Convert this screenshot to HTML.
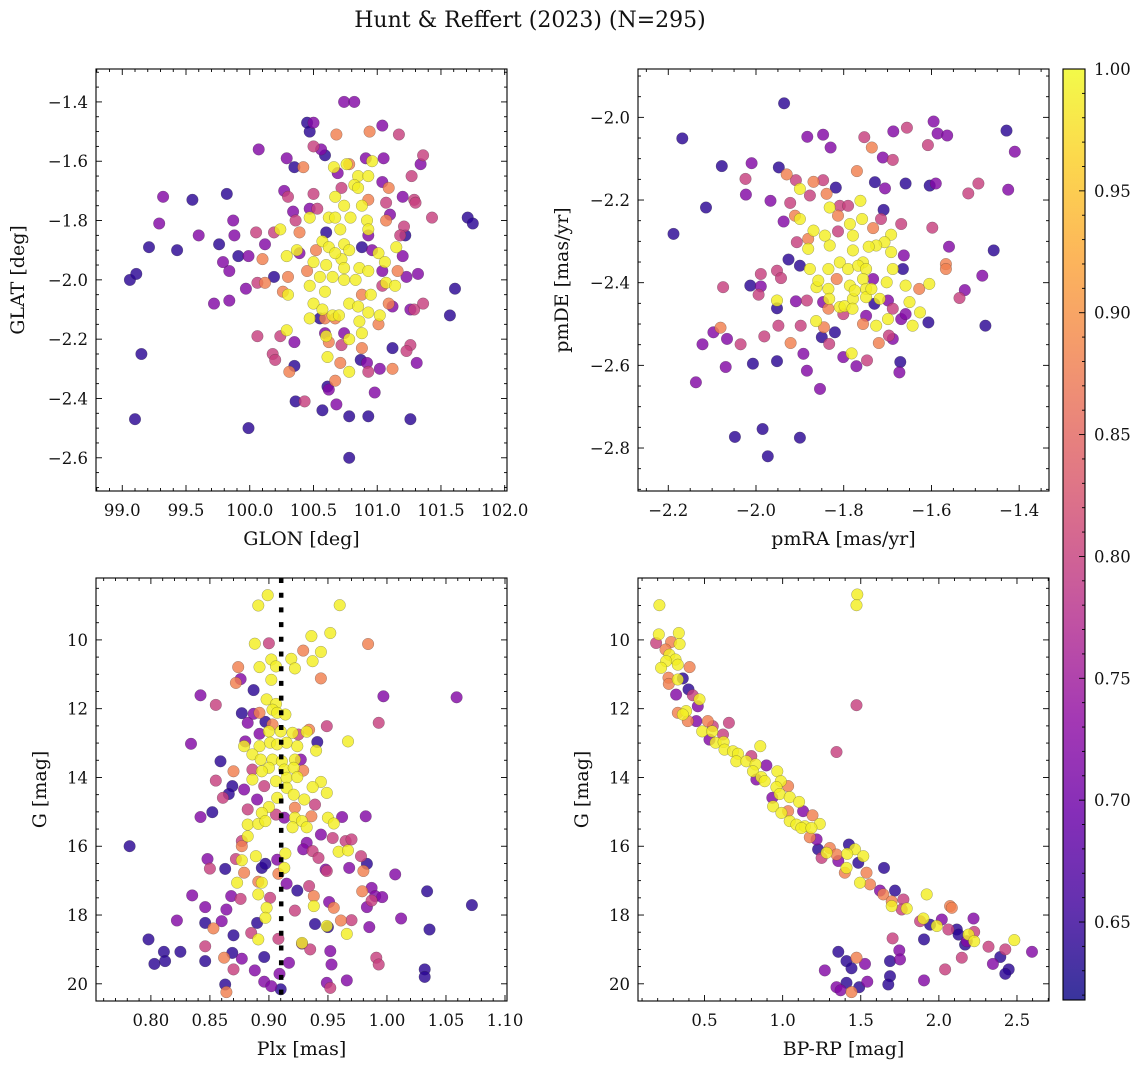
<!DOCTYPE html>
<html><head><meta charset="utf-8"><title>Hunt & Reffert (2023)</title>
<style>
html,body{margin:0;padding:0;background:#fff;}
svg{display:block;font-family:"DejaVu Serif","Liberation Serif",serif;}
</style></head>
<body>
<svg id="fig" width="1148" height="1068" viewBox="0 0 1148 1068" xmlns="http://www.w3.org/2000/svg">
<defs>
<linearGradient id="cbgrad" x1="0" y1="1" x2="0" y2="0"></linearGradient>
</defs>
<text x="530" y="27" font-size="22" text-anchor="middle" fill="#111">Hunt &amp; Reffert (2023) (N=295)</text>
</svg>
<script>
// ---------- data (prob: 0.64 dark, 0.72 purple, 0.80 magenta, 0.88 orange, 0.99 yellow) ----------
const glonGlatPoints = [
[100.74,-1.40,.72],[100.82,-1.40,.72],[100.45,-1.47,.64],[100.50,-1.47,.72],[100.47,-1.50,.64],[100.68,-1.51,.88],[100.94,-1.50,.88],[101.04,-1.48,.72],[101.17,-1.51,.80],[100.07,-1.56,.72],[100.29,-1.59,.72],[100.50,-1.55,.80],[100.56,-1.56,.72],[100.59,-1.58,.64],[100.35,-1.62,.64],[100.42,-1.62,.88],[100.66,-1.62,.99],[100.76,-1.61,.99],[100.78,-1.61,.88],[100.96,-1.60,.99],[100.91,-1.59,.72],[101.05,-1.59,.72],[101.36,-1.58,.80],[101.34,-1.61,.72],[101.27,-1.65,.80],[100.69,-1.64,.72],[100.85,-1.65,.99],[100.93,-1.65,.99],[100.82,-1.68,.99],[100.85,-1.69,.99],[101.04,-1.67,.72],[101.09,-1.69,.88],[100.27,-1.70,.72],[100.30,-1.72,.80],[100.50,-1.71,.80],[100.72,-1.69,.80],[100.67,-1.72,.99],[100.93,-1.73,.88],[99.32,-1.72,.72],[99.55,-1.73,.64],[99.82,-1.71,.64],[99.29,-1.81,.72],[99.87,-1.80,.72],[99.60,-1.85,.72],[99.88,-1.85,.72],[99.76,-1.88,.64],[99.21,-1.89,.64],[99.43,-1.90,.64],[100.05,-1.84,.80],[100.19,-1.84,.80],[100.24,-1.83,.99],[100.12,-1.88,.72],[100.34,-1.77,.72],[100.36,-1.80,.80],[100.39,-1.84,.88],[100.47,-1.79,.99],[100.47,-1.76,.72],[100.53,-1.76,.80],[100.62,-1.79,.99],[100.67,-1.79,.99],[100.74,-1.75,.99],[100.79,-1.79,.99],[100.88,-1.75,.99],[101.07,-1.74,.80],[101.20,-1.72,.72],[101.29,-1.73,.80],[101.30,-1.74,.80],[101.43,-1.79,.80],[101.71,-1.79,.64],[101.75,-1.81,.64],[101.10,-1.78,.72],[101.07,-1.80,.88],[101.21,-1.82,.80],[101.18,-1.85,.80],[101.22,-1.85,.64],[101.20,-1.92,.72],[100.92,-1.80,.99],[100.93,-1.83,.99],[100.71,-1.83,.99],[100.60,-1.84,.64],[100.57,-1.87,.99],[100.62,-1.89,.99],[100.74,-1.88,.99],[100.78,-1.90,.99],[100.72,-1.93,.99],[100.93,-1.85,.72],[100.88,-1.89,.64],[100.96,-1.90,.72],[101.01,-1.91,.99],[101.06,-1.94,.99],[101.15,-1.89,.99],[100.29,-1.92,.99],[100.37,-1.90,.99],[100.39,-1.91,.72],[100.52,-1.90,.88],[100.50,-1.94,.99],[100.60,-1.95,.99],[100.67,-1.91,.99],[100.74,-1.96,.99],[100.86,-1.96,.99],[100.93,-1.97,.99],[101.04,-1.97,.72],[101.07,-2.01,.99],[101.16,-1.97,.88],[101.23,-1.99,.72],[101.32,-1.98,.72],[99.91,-1.92,.64],[99.99,-1.92,.72],[100.10,-1.93,.88],[99.79,-1.94,.72],[99.84,-1.97,.72],[100.19,-1.99,.64],[100.30,-1.99,.88],[100.30,-2.05,.99],[100.26,-2.04,.88],[100.45,-1.97,.88],[100.47,-2.02,.99],[100.55,-1.99,.99],[100.65,-1.99,.99],[100.74,-2.00,.99],[100.83,-2.00,.99],[100.88,-2.05,.88],[100.95,-2.05,.99],[101.04,-2.02,.80],[101.14,-2.02,.99],[101.09,-2.08,.88],[101.12,-2.09,.72],[101.26,-2.10,.72],[101.29,-2.10,.80],[101.36,-2.08,.80],[100.12,-2.01,.88],[100.06,-2.01,.80],[99.97,-2.03,.72],[99.72,-2.08,.72],[99.84,-2.07,.72],[100.50,-2.08,.99],[100.59,-2.04,.99],[100.57,-2.10,.99],[100.65,-2.12,.99],[100.70,-2.12,.99],[100.78,-2.08,.99],[100.85,-2.09,.99],[100.93,-2.11,.99],[101.02,-2.12,.99],[101.01,-2.15,.88],[100.47,-2.13,.99],[100.55,-2.13,.64],[100.59,-2.13,.88],[100.67,-2.13,.88],[100.86,-2.14,.99],[100.88,-2.18,.99],[100.29,-2.17,.99],[100.06,-2.19,.80],[100.24,-2.19,.80],[100.35,-2.21,.72],[100.60,-2.19,.99],[100.59,-2.18,.72],[100.62,-2.21,.88],[100.72,-2.22,.80],[100.78,-2.20,.99],[100.74,-2.18,.72],[100.88,-2.23,.88],[101.12,-2.23,.64],[101.26,-2.22,.80],[101.23,-2.24,.80],[100.61,-2.26,.99],[100.71,-2.28,.88],[100.78,-2.31,.99],[100.87,-2.27,.64],[100.92,-2.28,.72],[100.93,-2.31,.80],[101.02,-2.30,.72],[101.12,-2.30,.88],[101.31,-2.28,.72],[100.18,-2.25,.80],[100.20,-2.27,.80],[100.31,-2.31,.88],[100.35,-2.29,.64],[100.67,-2.34,.88],[100.61,-2.36,.64],[100.62,-2.37,.72],[100.98,-2.38,.72],[100.36,-2.41,.64],[100.43,-2.41,.80],[100.57,-2.44,.64],[100.68,-2.42,.72],[100.78,-2.46,.64],[100.93,-2.46,.64],[101.26,-2.47,.64],[101.61,-2.03,.64],[101.57,-2.12,.64],[99.06,-2.00,.64],[99.11,-1.98,.64],[99.15,-2.25,.64],[99.10,-2.47,.64],[99.99,-2.50,.64],[100.78,-2.60,.64]
];
const pmPoints = [
[-1.936,-1.966,.64],[-2.168,-2.051,.64],[-1.883,-2.047,.72],[-1.847,-2.042,.72],[-1.830,-2.073,.72],[-1.753,-2.048,.80],[-1.736,-2.073,.88],[-1.687,-2.034,.72],[-1.656,-2.025,.80],[-1.595,-2.010,.72],[-1.586,-2.039,.72],[-1.564,-2.044,.72],[-1.608,-2.067,.80],[-1.429,-2.032,.64],[-1.410,-2.083,.72],[-2.078,-2.118,.64],[-2.010,-2.111,.72],[-1.948,-2.121,.64],[-2.024,-2.149,.80],[-2.023,-2.187,.72],[-1.967,-2.202,.72],[-2.114,-2.218,.64],[-2.188,-2.282,.64],[-1.930,-2.138,.88],[-1.909,-2.152,.80],[-1.869,-2.156,.88],[-1.847,-2.152,.80],[-1.900,-2.173,.99],[-1.818,-2.170,.64],[-1.770,-2.130,.88],[-1.711,-2.097,.72],[-1.688,-2.103,.80],[-1.729,-2.157,.64],[-1.706,-2.172,.72],[-1.659,-2.160,.64],[-1.604,-2.165,.64],[-1.590,-2.160,.72],[-1.516,-2.184,.80],[-1.493,-2.160,.80],[-1.425,-2.175,.72],
[-1.922,-2.207,.80],[-1.937,-2.252,.72],[-1.900,-2.246,.99],[-1.911,-2.238,.88],[-1.877,-2.189,.80],[-1.839,-2.185,.88],[-1.832,-2.218,.99],[-1.809,-2.214,.80],[-1.790,-2.214,.80],[-1.762,-2.202,.99],[-1.758,-2.246,.99],[-1.709,-2.224,.64],[-1.715,-2.246,.80],[-1.669,-2.258,.80],[-1.598,-2.267,.80],[-1.560,-2.313,.72],[-1.458,-2.322,.64],[-1.567,-2.355,.88],[-1.567,-2.367,.88],[-1.484,-2.383,.72],[-1.524,-2.418,.72],[-1.536,-2.437,.80],[-1.477,-2.504,.64],[-1.607,-2.496,.64],[-1.605,-2.403,.99],[-1.628,-2.415,.88],[-1.650,-2.447,.99],[-1.626,-2.472,.99],[-1.643,-2.504,.99],[-1.669,-2.488,.72],[-1.659,-2.476,.72],[-1.688,-2.463,.80],[-1.688,-2.536,.72],[-1.697,-2.528,.80],[-1.720,-2.546,.88],[-1.699,-2.488,.99],[-1.726,-2.504,.99],[-1.756,-2.500,.88],[-1.749,-2.480,.72],[-1.718,-2.439,.99],[-1.699,-2.443,.72],[-1.702,-2.399,.99],[-1.688,-2.367,.99],[-1.659,-2.407,.99],[-1.665,-2.367,.64],[-1.663,-2.334,.72],[-1.692,-2.326,.99],[-1.692,-2.284,.99],[-1.707,-2.302,.99],[-1.733,-2.268,.88],[-1.726,-2.310,.99],[-1.743,-2.313,.99],[-1.756,-2.351,.99],[-1.779,-2.286,.99],[-1.779,-2.322,.99],[-1.786,-2.258,.99],[-1.813,-2.238,.88],[-1.813,-2.276,.80],[-1.832,-2.310,.99],[-1.843,-2.286,.99],[-1.869,-2.274,.99],[-1.881,-2.294,.88],[-1.881,-2.318,.99],[-1.907,-2.302,.80],[-1.926,-2.344,.64],[-1.900,-2.359,.64],[-1.877,-2.367,.99],[-1.835,-2.367,.99],[-1.809,-2.351,.99],[-1.790,-2.367,.99],[-1.767,-2.359,.99],[-1.749,-2.367,.99],[-1.733,-2.391,.72],[-1.756,-2.391,.99],[-1.786,-2.407,.99],[-1.816,-2.391,.88],[-1.835,-2.415,.99],[-1.862,-2.411,.99],[-1.858,-2.395,.99],[-1.833,-2.439,.99],[-1.835,-2.463,.88],[-1.809,-2.459,.99],[-1.801,-2.476,.80],[-1.798,-2.457,.99],[-1.779,-2.439,.99],[-1.775,-2.419,.99],[-1.749,-2.415,.99],[-1.749,-2.435,.99],[-1.730,-2.451,.64],[-1.737,-2.415,.99],[-1.780,-2.463,.99],[-1.847,-2.447,.72],[-1.884,-2.443,.80],[-1.909,-2.445,.72],[-1.952,-2.371,.80],[-1.943,-2.389,.80],[-1.989,-2.379,.80],[-2.013,-2.407,.64],[-1.989,-2.409,.72],[-1.994,-2.429,.80],[-2.075,-2.411,.80],[-1.952,-2.443,.99],[-1.952,-2.462,.64],[-1.863,-2.493,.99],[-1.845,-2.508,.88],[-1.820,-2.520,.64],[-1.850,-2.532,.64],[-1.833,-2.548,.80],[-1.921,-2.546,.88],[-1.898,-2.504,.80],[-1.949,-2.504,.80],[-1.981,-2.530,.80],[-2.035,-2.549,.80],[-2.066,-2.536,.72],[-2.081,-2.509,.88],[-2.097,-2.520,.72],[-2.122,-2.549,.72],[-1.782,-2.571,.99],[-1.801,-2.580,.72],[-1.747,-2.588,.80],[-1.771,-2.602,.72],[-1.892,-2.572,.72],[-1.884,-2.613,.72],[-1.952,-2.590,.64],[-2.007,-2.596,.64],[-2.069,-2.604,.72],[-2.137,-2.641,.72],[-1.854,-2.657,.72],[-1.671,-2.592,.64],[-1.673,-2.617,.72],[-1.985,-2.754,.64],[-2.048,-2.773,.64],[-1.900,-2.775,.64],[-1.973,-2.820,.64]
];
const plxGPoints = [
[0.899,8.70,.99],[0.891,9.00,.99],[0.960,8.99,.99],[0.952,9.80,.99],[0.936,9.89,.99],[0.888,10.11,.99],[0.900,10.10,.80],[0.929,10.31,.88],[0.944,10.35,.99],[0.984,10.12,.88],[0.902,10.57,.99],[0.906,10.77,.99],[0.919,10.55,.99],[0.922,10.83,.99],[0.937,10.62,.99],[0.892,10.79,.99],[0.874,10.79,.88],[0.944,11.12,.88],[0.902,11.16,.99],[0.876,11.14,.72],[0.872,11.25,.88],[0.887,11.46,.64],[0.842,11.61,.72],[0.997,11.64,.72],[1.059,11.67,.72],[0.855,11.89,.80],[0.898,11.73,.99],[0.906,11.86,.99],[0.877,12.13,.64],[0.882,12.41,.72],[0.887,12.15,.72],[0.892,12.12,.88],[0.897,12.38,.64],[0.903,12.03,.99],[0.907,12.12,.99],[0.914,12.17,.99],[0.903,12.46,.88],[0.900,12.66,.99],[0.910,12.66,.99],[0.920,12.70,.99],[0.925,12.75,.80],[0.934,12.61,.88],[0.932,12.67,.99],[0.949,12.51,.80],[0.993,12.41,.80],[0.892,12.73,.72],[0.880,12.95,.72],[0.879,13.09,.99],[0.892,13.09,.99],[0.901,12.99,.99],[0.907,13.04,.99],[0.915,12.99,.99],[0.924,13.09,.99],[0.941,12.97,.64],[0.940,13.22,.99],[0.967,12.95,.99],[0.834,13.02,.72],[0.859,13.53,.64],[0.886,13.33,.99],[0.893,13.48,.99],[0.903,13.48,.99],[0.911,13.53,.99],[0.922,13.48,.99],[0.927,13.48,.72],[0.900,13.72,.99],[0.913,13.77,.99],[0.921,13.72,.99],[0.929,13.80,.88],[0.870,13.82,.88],[0.886,13.77,.80],[0.894,13.82,.99],[0.855,14.09,.80],[0.869,14.25,.64],[0.886,14.06,.99],[0.896,14.25,.80],[0.906,14.11,.99],[0.915,14.01,.99],[0.924,13.99,.99],[0.944,14.13,.99],[0.937,14.28,.99],[0.949,14.45,.99],[0.915,14.30,.99],[0.879,14.35,.72],[0.866,14.48,.64],[0.861,14.59,.80],[0.890,14.64,.72],[0.907,14.59,.99],[0.921,14.50,.99],[0.930,14.64,.99],[0.939,14.79,.80],[0.922,14.88,.88],[0.900,14.86,.99],[0.894,15.03,.99],[0.882,14.93,.80],[0.852,15.01,.64],[0.842,15.15,.72],[0.906,15.08,.80],[0.913,15.17,.72],[0.922,15.17,.99],[0.928,15.27,.99],[0.936,15.13,.88],[0.950,15.17,.99],[0.955,15.34,.99],[0.962,15.15,.72],[0.982,15.13,.72],[0.882,15.37,.99],[0.891,15.35,.99],[0.897,15.27,.99],[0.920,15.45,.99],[0.932,15.45,.99],[0.882,15.71,.99],[0.877,15.85,.80],[0.877,16.00,.88],[0.944,15.66,.72],[0.954,15.76,.80],[0.965,15.85,.80],[0.970,15.80,.80],[0.932,15.90,.72],[0.929,16.09,.72],[0.937,16.14,.80],[0.942,16.34,.80],[0.959,16.16,.99],[0.967,16.12,.99],[0.978,16.29,.80],[0.983,16.51,.64],[0.782,16.00,.64],[0.848,16.37,.72],[0.850,16.65,.80],[0.863,16.66,.64],[0.872,16.37,.80],[0.877,16.41,.99],[0.889,16.29,.99],[0.894,16.63,.64],[0.897,16.51,.64],[0.907,16.39,.72],[0.908,16.80,.88],[0.913,16.63,.99],[0.914,16.21,.99],[0.879,16.77,.88],[0.948,16.68,.72],[0.949,16.72,.80],[0.968,16.63,.72],[0.980,16.72,.88],[1.007,16.82,.72],[0.873,17.06,.99],[0.891,17.03,.88],[0.894,17.06,.99],[0.915,17.09,.72],[0.924,17.29,.64],[0.934,17.16,.80],[0.938,17.45,.88],[0.979,17.31,.88],[0.987,17.21,.72],[0.990,17.45,.72],[0.996,17.48,.72],[0.987,17.58,.80],[0.983,17.77,.72],[1.034,17.31,.64],[1.072,17.71,.64],[0.835,17.43,.72],[0.868,17.45,.72],[0.876,17.53,.80],[0.891,17.40,.99],[0.901,17.50,.80],[0.938,17.74,.99],[0.951,17.62,.72],[0.955,17.79,.88],[0.846,17.77,.72],[0.864,17.84,.72],[0.898,17.79,.99],[0.897,18.08,.99],[0.890,18.23,.64],[0.922,17.87,.80],[0.961,18.16,.88],[0.970,18.15,.80],[0.939,18.26,.64],[0.950,18.35,.64],[0.949,18.32,.99],[0.985,18.35,.72],[1.012,18.10,.72],[1.036,18.42,.64],[0.822,18.16,.72],[0.846,18.23,.64],[0.860,18.18,.72],[0.853,18.39,.88],[0.870,18.59,.64],[0.885,18.52,.80],[0.891,18.71,.99],[0.908,18.69,.80],[0.928,18.83,.72],[0.928,18.81,.99],[0.935,19.00,.80],[0.966,18.55,.99],[0.798,18.71,.64],[0.811,19.07,.64],[0.825,19.07,.64],[0.803,19.42,.64],[0.812,19.34,.64],[0.846,18.91,.80],[0.846,19.34,.64],[0.862,19.24,.88],[0.869,19.10,.64],[0.877,19.27,.72],[0.896,19.22,.64],[0.917,19.39,.72],[0.870,19.58,.80],[0.888,19.61,.72],[0.909,19.71,.72],[0.953,19.44,.72],[0.952,19.05,.72],[0.991,19.24,.80],[0.993,19.44,.80],[1.032,19.58,.64],[1.032,19.80,.64],[0.863,20.02,.64],[0.864,20.24,.88],[0.896,19.94,.72],[0.902,20.07,.72],[0.910,20.16,.64],[0.949,19.97,.72],[0.952,20.12,.80],[0.966,19.90,.72]
];
const cmdPoints = [
[0.211,8.99,.99],[1.478,8.68,.99],[1.473,8.99,.99],[0.207,9.84,.99],[0.190,10.09,.80],[0.335,9.80,.99],[0.340,10.12,.99],[0.286,10.06,.88],[0.250,10.28,.88],[0.275,10.43,.99],[0.314,10.57,.99],[0.254,10.62,.99],[0.404,10.79,.88],[0.222,10.81,.99],[0.329,10.72,.99],[0.269,11.10,.88],[0.329,11.15,.99],[0.361,11.12,.64],[0.271,11.28,.88],[0.397,11.44,.64],[0.318,11.59,.72],[0.425,11.61,.80],[0.468,11.73,.99],[0.457,11.93,.72],[0.382,12.07,.99],[0.329,12.12,.88],[0.361,12.17,.99],[0.393,12.36,.88],[0.447,12.36,.72],[0.521,12.36,.88],[0.553,12.51,.80],[0.485,12.66,.99],[0.549,12.66,.99],[0.618,12.75,.80],[0.532,12.90,.72],[0.571,12.99,.99],[0.622,12.97,.99],[0.656,12.41,.80],[0.628,13.19,.99],[0.682,13.24,.99],[0.714,13.31,.99],[0.857,13.09,.99],[0.703,13.53,.99],[0.767,13.53,.99],[0.799,13.38,.80],[0.827,13.62,.99],[0.896,13.65,.72],[0.810,13.82,.99],[0.864,13.99,.99],[0.832,14.06,.72],[0.885,14.11,.99],[0.966,13.82,.99],[0.988,14.11,.99],[1.035,14.25,.88],[0.960,14.28,.99],[0.981,14.48,.99],[0.934,14.59,.72],[1.045,14.57,.99],[1.105,14.71,.99],[0.939,14.84,.99],[0.992,15.03,.99],[1.035,14.98,.88],[1.131,14.98,.72],[1.191,15.10,.88],[1.238,15.35,.99],[1.045,15.27,.99],[1.088,15.37,.99],[1.142,15.42,.99],[1.120,15.47,.99],[1.184,15.47,.99],[1.174,15.74,.88],[1.217,15.80,.72],[1.227,16.09,.64],[1.281,16.19,.99],[1.249,16.34,.80],[1.302,16.05,.88],[1.345,16.24,.88],[1.356,16.43,.72],[1.424,15.95,.64],[1.463,16.09,.99],[1.413,16.22,.99],[1.516,16.29,.99],[1.484,16.48,.64],[1.409,16.63,.99],[1.398,16.77,.88],[1.537,16.77,.88],[1.649,16.63,.64],[1.495,17.06,.99],[1.559,17.11,.88],[1.623,17.29,.72],[1.644,17.40,.88],[1.719,17.29,.64],[1.698,17.60,.88],[1.698,17.74,.99],[1.773,17.55,.80],[1.794,17.81,.99],[1.762,17.84,.80],[1.922,17.40,.99],[1.901,18.10,.99],[1.880,18.18,.80],[1.944,18.28,.64],[1.987,18.32,.99],[2.019,18.13,.72],[2.072,17.74,.88],[2.083,17.79,.88],[2.061,18.42,.80],[2.115,18.42,.64],[2.126,18.57,.64],[2.190,18.57,.99],[2.222,18.10,.72],[2.226,18.49,.80],[2.226,18.76,.99],[2.179,18.76,.72],[2.168,18.86,.64],[2.147,19.24,.80],[1.905,18.71,.64],[1.704,18.68,.80],[1.747,19.03,.72],[1.751,19.29,.72],[1.687,19.34,.64],[1.473,19.24,.88],[1.527,19.42,.72],[1.356,19.07,.64],[1.409,19.34,.64],[1.441,19.55,.64],[1.270,19.61,.72],[1.687,19.78,.64],[1.676,20.02,.64],[1.409,19.97,.64],[1.345,20.10,.72],[1.371,20.19,.72],[1.441,20.24,.88],[1.490,20.10,.64],[1.542,19.94,.72],[1.905,19.90,.72],[2.040,19.58,.80],[2.318,18.92,.80],[2.425,19.00,.80],[2.393,19.22,.64],[2.346,19.42,.72],[2.447,19.58,.64],[2.425,19.71,.64],[2.483,18.73,.99],[2.596,19.07,.72],[1.473,11.90,.80],[1.345,13.26,.80]
];
const plxMedian = 0.9104;
const cbarTicks = [0.65,0.70,0.75,0.80,0.85,0.90,0.95,1.00];
const cbarRange = [0.618, 1.0];

// ---------- plasma colormap ----------
const PL = ['#0d0887','#41049d','#6a00a8','#8f0da4','#b12a90','#cc4778','#e16462','#f2844b','#fca636','#fcce25','#f0f921'];
function hex(h){return [parseInt(h.slice(1,3),16),parseInt(h.slice(3,5),16),parseInt(h.slice(5,7),16)];}
function plasma(t){t=Math.max(0,Math.min(1,t));const s=t*10,i=Math.min(9,Math.floor(s)),f=s-i;const a=hex(PL[i]),b=hex(PL[i+1]);
return 'rgb('+a.map((v,k)=>Math.round(v+(b[k]-v)*f)).join(',')+')';}
function pcol(v){return plasma((v-cbarRange[0])/(cbarRange[1]-cbarRange[0]));}

const NS='http://www.w3.org/2000/svg';
const svg=document.getElementById('fig');
function mk(tag,attrs,parent){const e=document.createElementNS(NS,tag);for(const k in attrs)e.setAttribute(k,attrs[k]);(parent||svg).appendChild(e);return e;}
function fmt(v,d){return v.toFixed(d).replace('-','\u2212');}

function panel(cfg){
  const g=mk('g',{});
  
  
  const [X0,X1,Y0,Y1]=cfg.box;
  const sx=v=>X0+(v-cfg.xlim[0])/(cfg.xlim[1]-cfg.xlim[0])*(X1-X0);
  const sy=cfg.invert?(v=>Y0+(v-cfg.ylim[0])/(cfg.ylim[1]-cfg.ylim[0])*(Y1-Y0)):(v=>Y1-(v-cfg.ylim[0])/(cfg.ylim[1]-cfg.ylim[0])*(Y1-Y0));
  const cid='clip'+cfg.name;
  const cp=mk('clipPath',{id:cid},svg.querySelector('defs'));
  mk('rect',{x:X0,y:Y0,width:X1-X0,height:Y1-Y0},cp);
  const pg=mk('g',{'clip-path':'url(#'+cid+')'},g);
  
  
  const pts=cfg.data.slice().sort((a,b)=>a[2]-b[2]);
  pts.forEach(p=>{
    const c=mk('circle',{cx:sx(p[0]).toFixed(1),cy:sy(p[1]).toFixed(1),r:5.8,fill:pcol(p[2]),'fill-opacity':0.82,stroke:'#333','stroke-opacity':0.45,'stroke-width':0.5},pg);
    
    
  });
  if(cfg.vline!==undefined){
    const l=mk('line',{x1:sx(cfg.vline),x2:sx(cfg.vline),y1:Y0,y2:Y1,stroke:'#000','stroke-width':4.5,'stroke-dasharray':'5 9.7'},pg);
    
    
  }
  const fr=mk('rect',{x:X0,y:Y0,width:X1-X0,height:Y1-Y0,fill:'none',stroke:'#000','stroke-width':1.1},g);
  
  
  function ticks(lim,major,minor){const out=[];const lo=Math.min(...lim),hi=Math.max(...lim);
    for(let k=Math.ceil(lo/minor-1e-6);k<=Math.floor(hi/minor+1e-6);k++){const v=k*minor;const r=v/major;out.push([v,Math.abs(r-Math.round(r))<1e-6]);}return out;}
  const tg=mk('g',{stroke:'#000','stroke-width':0.9},g);
  ticks(cfg.xlim,cfg.xmaj,cfg.xmin).forEach(([v,M])=>{const x=sx(v),L=M?6:3;
    mk('line',{x1:x,x2:x,y1:Y1,y2:Y1-L},tg);mk('line',{x1:x,x2:x,y1:Y0,y2:Y0+L},tg);
    if(M){const t=mk('text',{x:x,y:Y1+25,'font-size':16.5,'text-anchor':'middle',fill:'#111',stroke:'none'},g);t.textContent=fmt(v,cfg.xd);
      }});
  ticks(cfg.ylim,cfg.ymaj,cfg.ymin).forEach(([v,M])=>{const y=sy(v),L=M?6:3;
    mk('line',{x1:X0,x2:X0+L,y1:y,y2:y},tg);mk('line',{x1:X1,x2:X1-L,y1:y,y2:y},tg);
    if(M){const t=mk('text',{x:X0-8,y:y+6,'font-size':16.5,'text-anchor':'end',fill:'#111',stroke:'none'},g);t.textContent=fmt(v,cfg.yd);
      }});
  const xl=mk('text',{x:(X0+X1)/2,y:Y1+54,'font-size':19,'text-anchor':'middle',fill:'#111'},g);xl.textContent=cfg.xlabel;
  
  const yx=cfg.ylx,yy=(Y0+Y1)/2;
  const yl=mk('text',{x:yx,y:yy,'font-size':19,'text-anchor':'middle',fill:'#111',transform:'rotate(-90 '+yx+' '+yy+')'},g);yl.textContent=cfg.ylabel;
  
}

panel({name:'glon-glat-panel',box:[96,507,69,491],xlim:[98.794,102.018],ylim:[-2.712,-1.289],xmaj:0.5,xmin:0.1,ymaj:0.2,ymin:0.05,xd:1,yd:1,
  data:glonGlatPoints,xlabel:'GLON [deg]',ylabel:'GLAT [deg]',ylx:24});
panel({name:'proper-motion-panel',box:[638,1049,69,491],xlim:[-2.269,-1.332],ylim:[-2.904,-1.883],xmaj:0.2,xmin:0.05,ymaj:0.2,ymin:0.05,xd:1,yd:1,
  data:pmPoints,xlabel:'pmRA [mas/yr]',ylabel:'pmDE [mas/yr]',ylx:568});
panel({name:'parallax-mag-panel',box:[96,507,578,1001],xlim:[0.7535,1.1017],ylim:[8.2,20.5],invert:true,xmaj:0.05,xmin:0.01,ymaj:2,ymin:0.5,xd:2,yd:0,
  data:plxGPoints,vline:plxMedian,xlabel:'Plx [mas]',ylabel:'G [mag]',ylx:46});
panel({name:'cmd-panel',box:[638,1049,578,1001],xlim:[0.074,2.705],ylim:[8.2,20.5],invert:true,xmaj:0.5,xmin:0.1,ymaj:2,ymin:0.5,xd:1,yd:0,
  data:cmdPoints,xlabel:'BP-RP [mag]',ylabel:'G [mag]',ylx:588});

// ---------- colorbar ----------
(function(){
  const CX0=1063,CX1=1085,CY0=69,CY1=1000;
  const grad=document.getElementById('cbgrad');
  for(let i=0;i<=20;i++){mk('stop',{offset:(i/20),'stop-color':plasma(i/20)},grad);}
  const g=mk('g',{});
  
  
  mk('rect',{x:CX0,y:CY0,width:CX1-CX0,height:CY1-CY0,fill:'url(#cbgrad)','fill-opacity':0.82},g);
  mk('rect',{x:CX0,y:CY0,width:CX1-CX0,height:CY1-CY0,fill:'none',stroke:'#000','stroke-width':1.1},g);
  const sy=v=>CY1-(v-cbarRange[0])/(cbarRange[1]-cbarRange[0])*(CY1-CY0);
  for(let k=Math.ceil(cbarRange[0]*100);k<=100;k++){const v=k/100,y=sy(v),M=(k%5===0);
    mk('line',{x1:CX1,x2:CX1-(M?6:3),y1:y,y2:y,stroke:'#000','stroke-width':0.9},g);}
  cbarTicks.forEach(v=>{const t=mk('text',{x:CX1+9,y:sy(v)+6,'font-size':16.5,fill:'#111'},g);t.textContent=v.toFixed(2);
    });
})();
</script>
</body></html>
